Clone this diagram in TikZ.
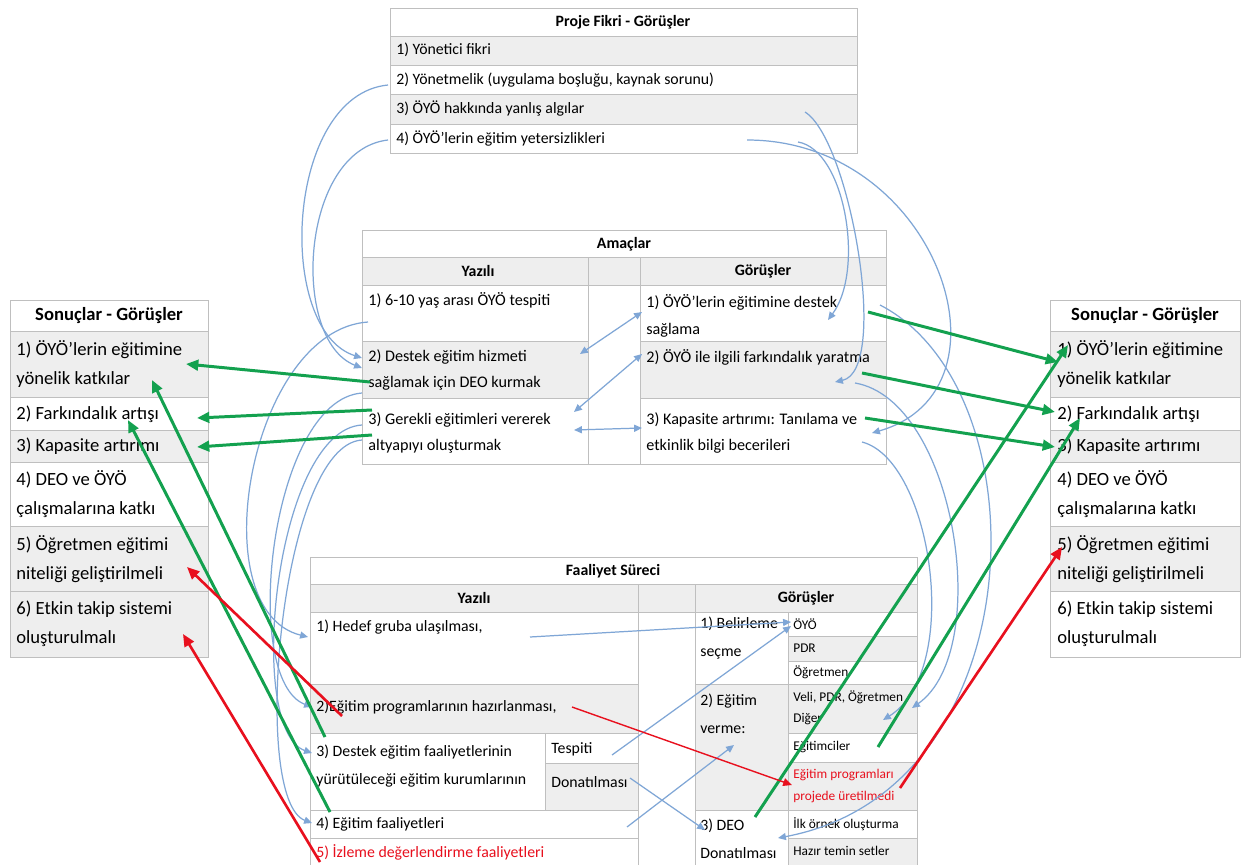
\documentclass[tikz,border=0pt]{standalone}
\usepackage{fontspec}
\setmainfont{Carlito}
\usetikzlibrary{calc,arrows.meta}

\definecolor{cellgray}{HTML}{EEEEEE}
\definecolor{rulegray}{HTML}{BFBFBF}
\definecolor{linkblue}{HTML}{7FA6D6}
\definecolor{linkgreen}{HTML}{13A14F}
\definecolor{linkred}{HTML}{E8101E}

\tikzset{
  cell/.style={draw=rulegray, line width=0.5pt},
  txt/.style={anchor=west, inner sep=0pt, align=left, font=\fontsize{9}{16}\selectfont},
  amtxt/.style={txt, font=\fontsize{9.2}{15}\selectfont},
  sontxt/.style={txt, font=\fontsize{10.6}{16.5}\selectfont},
  smalltxt/.style={txt, font=\fontsize{7.6}{12}\selectfont},
  head/.style={inner sep=0pt, font=\bfseries\fontsize{9}{16}\selectfont},
  bluelink/.style={draw=linkblue, line width=0.7pt, -{Triangle[length=4.5pt,width=4pt]}},
  bluelinks/.style={bluelink, {Triangle[length=4.5pt,width=4pt]}-{Triangle[length=4.5pt,width=4pt]}},
  greenlink/.style={draw=linkgreen, line width=1.7pt, -{Triangle[length=7pt,width=6pt]}},
  redlink/.style={draw=linkred, line width=1.5pt, -{Triangle[length=7pt,width=6pt]}},
  redthin/.style={draw=linkred, line width=0.8pt, -{Triangle[length=5pt,width=4.5pt]}},
}

\begin{document}
\begin{tikzpicture}[x=0.02cm, y=-0.02cm]
  \fill[white] (0,0) rectangle (1247,865);
  \useasboundingbox (0,0) rectangle (1247,865);

  % Proje Fikri table
  \foreach \ya/\yb/\c in {8/36/white, 36/65/cellgray, 65/94/white, 94/124/cellgray, 124/153/white}
    \draw[cell, fill=\c] (390,\ya) rectangle (857,\yb);
  \node[head] (pft) at (623,22) {Proje Fikri - Görüşler};
  \node[txt] (pf1) at (396,50) {1) Yönetici fikri};
  \node[txt] (pf2) at (396,80) {2) Yönetmelik (uygulama boşluğu, kaynak sorunu)};
  \node[txt] (pf3) at (396,109) {3) ÖYÖ hakkında yanlış algılar};
  \node[txt] (pf4) at (396,139) {4) ÖYÖ’lerin eğitim yetersizlikleri};

  % Amaclar table
  \draw[cell, fill=white] (362,230) rectangle (886,257);
  \foreach \xa/\ya/\xb/\yb/\c in {362/257/588/285/cellgray, 588/257/640/285/cellgray, 640/257/886/285/cellgray,
      362/285/588/341/white, 640/285/886/341/white, 362/341/588/398/cellgray, 640/341/886/398/cellgray,
      362/398/588/464/white, 640/398/886/464/white, 588/285/640/464/white}
    \draw[cell, fill=\c] (\xa,\ya) rectangle (\xb,\yb);
  \node[head] (amt) at (624,244) {Amaçlar};
  \node[head] (amhy) at (478,271) {Yazılı};
  \node[head] (amhg) at (763,271) {Görüşler};
  \node[amtxt] (amy1) at (368,300) {1) 6-10 yaş arası ÖYÖ tespiti};
  \node[amtxt] (amy2) at (368,370) {2) Destek eğitim hizmeti\\sağlamak için DEO kurmak};
  \node[amtxt] (amy3) at (368,433) {3) Gerekli eğitimleri vererek\\altyapıyı oluşturmak};
  \node[amtxt] (amg1) at (646,316) {1) ÖYÖ’lerin eğitimine destek\\sağlama};
  \node[amtxt] (amg2) at (646,357) {2) ÖYÖ ile ilgili farkındalık yaratma};
  \node[amtxt] (amg3) at (646,433) {3) Kapasite artırımı: Tanılama ve\\etkinlik bilgi becerileri};

  % Sonuclar tables, left and right
  \foreach \xa/\xb/\last in {10/208/cellgray, 1050/1240/white}
    \foreach \ya/\yb/\c in {300/331/white, 331/397/cellgray, 397/430/white, 430/462/cellgray,
        462/526/white, 526/591/cellgray, 591/657/\last}
      \draw[cell, fill=\c] (\xa,\ya) rectangle (\xb,\yb);
  \node[head, font=\bfseries\fontsize{10.6}{16}\selectfont] (slt) at (109,316) {Sonuçlar - Görüşler};
  \node[head, font=\bfseries\fontsize{10.6}{16}\selectfont] (srt) at (1145,316) {Sonuçlar - Görüşler};
  \foreach \s/\x in {sl/16, sr/1057}
    \foreach \n/\y/\t in {1/364/{1) ÖYÖ’lerin eğitimine\\yönelik katkılar}, 2/414/{2) Farkındalık artışı},
        3/446/{3) Kapasite artırımı}, 4/494/{4) DEO ve ÖYÖ\\çalışmalarına katkı},
        5/559/{5) Öğretmen eğitimi\\niteliği geliştirilmeli}, 6/624/{6) Etkin takip sistemi\\oluşturulmalı}}
      \node[sontxt] (\s\n) at (\x,\y) {\t};

  % Faaliyet Sureci table
  \draw[cell, fill=white] (310,557) rectangle (917,584);
  \foreach \xa/\ya/\xb/\yb/\c in {310/584/638/612/cellgray, 638/584/695/612/cellgray, 695/584/917/612/cellgray,
      310/612/638/684/white, 310/684/638/733/cellgray, 310/733/545/810/white, 545/733/638/763/white,
      545/763/638/810/cellgray, 310/810/638/838/white, 310/838/638/870/white, 638/612/695/870/white,
      695/612/788/684/white, 695/684/788/810/cellgray, 695/810/788/870/white,
      788/612/917/636/white, 788/636/917/661/cellgray, 788/661/917/684/white, 788/684/917/733/cellgray,
      788/733/917/762/white, 788/762/917/810/cellgray, 788/810/917/838/white, 788/838/917/870/cellgray}
    \draw[cell, fill=\c] (\xa,\ya) rectangle (\xb,\yb);
  \node[head] (fst) at (613,571) {Faaliyet Süreci};
  \node[head] (fshy) at (474,598) {Yazılı};
  \node[head] (fshg) at (806,598) {Görüşler};
  \node[txt] (fsy1) at (316,627) {1) Hedef gruba ulaşılması,};
  \node[txt] (fsy2) at (316,707) {2)Eğitim programlarının hazırlanması,};
  \node[txt] (fsy3) at (316,766) {3) Destek eğitim faaliyetlerinin\\yürütüleceği eğitim kurumlarının};
  \node[txt] (fstes) at (551,749) {Tespiti};
  \node[txt] (fsdon) at (551,782) {Donatılması};
  \node[txt] (fsy4) at (316,824) {4) Eğitim faaliyetleri};
  \node[txt, text=linkred] (fsy5) at (316,852) {5) İzleme değerlendirme faaliyetleri};
  \node[txt] (fsg1) at (700,638) {1) Belirleme\\seçme};
  \node[txt] (fsg2) at (700,714) {2) Eğitim\\verme:};
  \node[txt] (fsg3) at (700,839) {3) DEO\\Donatılması};
  \node[smalltxt] (fso1) at (793,624) {ÖYÖ};
  \node[smalltxt] (fso2) at (793,648) {PDR};
  \node[smalltxt] (fso3) at (793,672) {Öğretmen};
  \node[smalltxt] (fso4) at (793,708) {Veli, PDR, Öğretmen\\Diğer};
  \node[smalltxt] (fso5) at (793,747) {Eğitimciler};
  \node[smalltxt, text=linkred] (fso6) at (793,786) {Eğitim programları\\projede üretilmedi};
  \node[smalltxt] (fso7) at (793,824) {İlk örnek oluşturma};
  \node[smalltxt] (fso8) at (793,851) {Hazır temin setler};

  % blue: proje fikri -> amaclar
  \draw[bluelink] ($(pf2.west)+(-8,5)$) .. controls +(-103,10) and +(-87,-28) .. ($(amy2.west)+(-6,-12)$);
  \draw[bluelink] ($(pf4.west)+(-8,1)$) .. controls +(-88,10) and +(-72,-28) .. ($(amy2.west)+(-6,-2)$);
  \draw[bluelink] ($(pf3.west)+(409,3)$) .. controls +(45,28) and +(55,-12) .. ($(amg2.west)+(189,25)$);
  \draw[bluelink] ($(pf4.west)+(402,3)$) .. controls +(47,8) and +(37,-50) .. ($(amg1.west)+(182,4)$);
  \draw[bluelink] ($(pf4.west)+(351,1)$) .. controls +(190,0) and +(150,-43) .. ($(amg3.west)+(226,0)$);

  % blue: amaclar gorusler -> faaliyet gorusler
  \draw[bluelink] ($(amg1.west)+(234,-11)$) .. controls +(165,85) and +(258,-48) .. ($(fsg3.west)+(78,-1)$);
  \draw[bluelink] ($(amg2.west)+(209,26)$) .. controls +(100,17) and +(82,-58) .. ($(fso4.west)+(119,0)$);
  \draw[bluelink] ($(amg3.west)+(216,9)$) .. controls +(70,18) and +(80,-50) .. ($(fso4.west)+(90,12)$);

  % blue: amaclar yazili -> faaliyet yazili
  \draw[bluelink] ($(amy1.west)+(0,22)$) .. controls +(-118,8) and +(-108,-27) .. ($(fsy1.west)+(-8,10)$);
  \draw[bluelink] ($(amy2.west)+(-6,23)$) .. controls +(-92,7) and +(-72,-27) .. ($(fsy2.west)+(-4,0)$);
  \draw[bluelink] ($(amy3.west)+(-6,-8)$) .. controls +(-87,5) and +(-67,-23) .. ($(fsy3.west)+(-4,-13)$);
  \draw[bluelink] ($(amy3.west)+(-6,7)$) .. controls +(-82,5) and +(-62,-23) .. ($(fsy4.west)+(-4,-1)$);

  % blue: inside the tables
  \draw[bluelinks] ($(amy2.west)+(212,-16)$) -- ($(amg1.west)+(-4,-4)$);
  \draw[bluelinks] ($(amy3.west)+(206,-21)$) -- ($(amg2.west)+(-4,-3)$);
  \draw[bluelinks] ($(amy3.west)+(206,-3)$) -- ($(amg3.west)+(-4,-5)$);
  \draw[bluelink] ($(fsy1.west)+(214,10)$) -- ($(fso1.west)+(-2,-2)$);
  \draw[bluelink] ($(fstes.west)+(61,6)$) -- ($(fso1.west)+(-2,2)$);
  \draw[bluelink] ($(fsy4.west)+(311,3)$) -- ($(fsg2.west)+(34,31)$);
  \draw[bluelink] ($(fsdon.west)+(79,-4)$) -- ($(fsg3.west)+(5,-9)$);

  % green: to sonuclar
  \draw[greenlink] ($(amy2.west)+(2,12)$) -- ($(sl1.west)+(170,0)$);
  \draw[greenlink] ($(amy3.west)+(4,-23)$) -- ($(sl2.west)+(181,4)$);
  \draw[greenlink] ($(amy3.west)+(4,2)$) -- ($(sl3.west)+(181,1)$);
  \draw[greenlink] ($(fsy3.west)+(9,-29)$) -- ($(sl1.west)+(136,16)$);
  \draw[greenlink] ($(fsy4.west)+(14,-12)$) -- ($(sl2.west)+(112,6)$);
  \draw[greenlink] ($(amg1.west)+(222,-4)$) -- ($(sr1.west)+(1,-2)$);
  \draw[greenlink] ($(amg2.west)+(216,16)$) -- ($(sr2.west)+(-2,-2)$);
  \draw[greenlink] ($(amg3.west)+(219,-15)$) -- ($(sr3.west)+(-2,1)$);
  \draw[greenlink] ($(fsg3.west)+(55,-22)$) -- ($(sr1.west)+(11,-19)$);
  \draw[greenlink] ($(fso5.west)+(85,0)$) -- ($(sr2.west)+(23,4)$);

  % red
  \draw[redthin] ($(fsy2.west)+(256,0)$) -- ($(fso6.west)+(-1,-1)$);
  \draw[redlink] ($(fso6.west)+(107,2)$) -- ($(sr5.west)+(5,-12)$);
  \draw[redlink] ($(fsy2.west)+(26,9)$) -- ($(sl5.west)+(171,8)$);
  \draw[redlink] ($(fsy5.west)+(4,10)$) -- ($(sl6.west)+(167,10)$);
\end{tikzpicture}
\end{document}
